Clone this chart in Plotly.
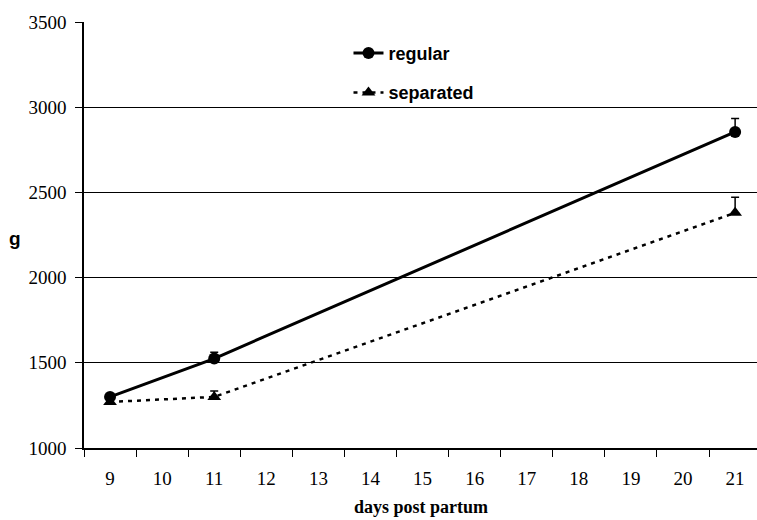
import plotly.graph_objects as go

days = [9, 11, 21]
regular = [1300, 1525, 2855]
regular_err = [15, 37, 78]
separated = [1270, 1300, 2380]
separated_err = [12, 35, 92]
x_labels = [str(d) for d in range(9, 22)]
y_ticks = [1000, 1500, 2000, 2500, 3000, 3500]

fig = go.Figure()
fig.add_trace(go.Scatter(
    x=days, y=regular, name="regular", mode="lines+markers",
    line=dict(color="black", width=3),
    marker=dict(symbol="circle", size=12, color="black"),
    error_y=dict(type="data", symmetric=False, array=regular_err,
                 arrayminus=[0] * len(regular_err), color="black",
                 thickness=1.5, width=4),
    legendgroup="a",
))
fig.add_trace(go.Scatter(
    x=days, y=separated, name="separated", mode="lines+markers",
    line=dict(color="black", width=2.5, dash="4px,5px"),
    marker=dict(symbol="triangle-up", size=12, color="black"),
    error_y=dict(type="data", symmetric=False, array=separated_err,
                 arrayminus=[0] * len(separated_err), color="black",
                 thickness=1.5, width=4),
    legendgroup="b",
))

serif = "Liberation Serif"
sans = "Liberation Sans"

W, H = 757, 520
L, T, B = 84, 22, 72
PW = W - L
PH = H - T - B

fig.update_layout(
    width=W, height=H,
    margin=dict(l=L, r=0, t=T, b=B, autoexpand=False),
    paper_bgcolor="white", plot_bgcolor="white",
    showlegend=True,
    legend=dict(
        x=0.393, y=0.97, xanchor="left", yanchor="top",
        font=dict(family=sans, size=18, color="black", weight="bold"),
        bgcolor="rgba(0,0,0,0)", traceorder="grouped", tracegroupgap=13,
        itemwidth=30,
    ),
    xaxis=dict(
        range=[8.5, 21.42],
        tickvals=list(range(9, 22)), ticktext=x_labels,
        ticks="", showgrid=False, zeroline=False,
        showline=True, linecolor="black", linewidth=1.5,
        tickfont=dict(family=serif, size=19, color="black"),
        ticklabelstandoff=12,
        minor=dict(ticks="outside", tick0=8.5, dtick=1, ticklen=7,
                   tickcolor="black", tickwidth=1, showgrid=False),
    ),
    yaxis=dict(
        range=[1000, 3500], tickvals=y_ticks,
        ticks="outside", ticklen=7, tickcolor="black", tickwidth=1,
        showgrid=True, gridcolor="black", gridwidth=1, zeroline=False,
        showline=True, linecolor="black", linewidth=1.5,
        tickfont=dict(family=serif, size=19, color="black"),
        ticklabelstandoff=5,
    ),
    annotations=[
        dict(text="g", xref="paper", yref="paper", x=-(84 - 15) / PW,
             y=0.5 - 3 / PH, xanchor="center", yanchor="middle",
             showarrow=False,
             font=dict(family=sans, size=19, color="black", weight="bold")),
        dict(text="days post partum", xref="paper", yref="paper",
             x=(421 - 84) / PW, y=-(507 - 448) / PH,
             xanchor="center", yanchor="middle", showarrow=False,
             font=dict(family=serif, size=18, color="black", weight="bold")),
    ],
)

fig.write_html(
    "out.html",
    config={"displayModeBar": False},
    post_script="document.body.style.margin='0';document.body.style.overflow='hidden';",
)
